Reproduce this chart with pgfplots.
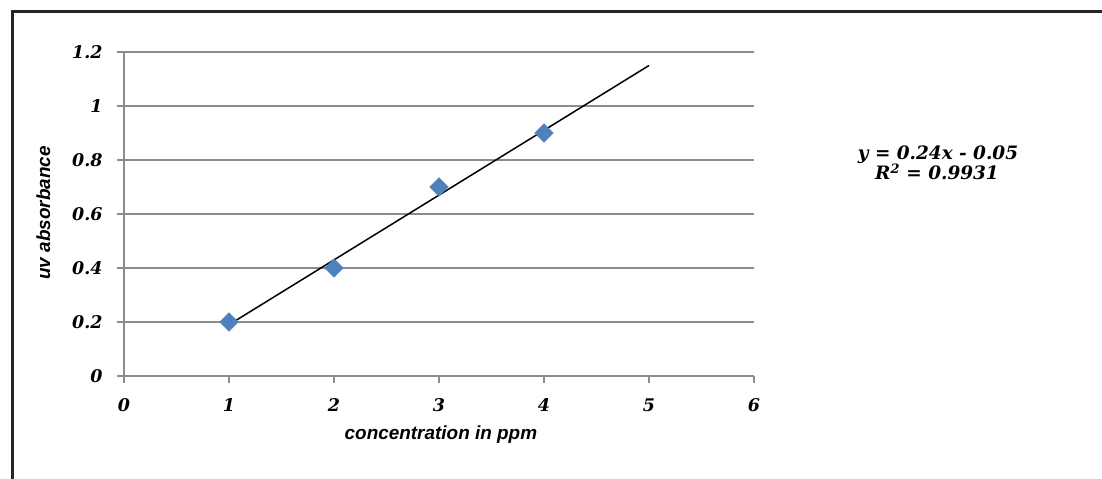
\documentclass[border=0pt]{standalone}
\usepackage{fontspec}
\setmainfont{DejaVu Serif}
\setsansfont{Liberation Sans}
\usepackage{pgfplots}
\pgfplotsset{compat=1.18}
\definecolor{gridgray}{HTML}{8C8C8C}
\definecolor{markblue}{HTML}{4F81BD}
\begin{document}
\begin{tikzpicture}[x=1bp,y=1bp]
\path[use as bounding box] (0,0) rectangle (1102,479);
\draw[line width=3bp, color=black!85] (12,0) -- (12,467) -- (1102,467);
\begin{axis}[
  at={(124bp,103bp)}, anchor=south west,
  scale only axis, width=630bp, height=324bp,
  xmin=0, xmax=6, ymin=0, ymax=1.2,
  axis lines=left,
  axis line style={gridgray, line width=1.5bp, -},
  xtick={0,1,2,3,4,5,6},
  ytick={0,0.2,0.4,0.6,0.8,1,1.2},
  yticklabels={0,0.2,0.4,0.6,0.8,1,1.2},
  xticklabels={0,1,2,3,4,5,6},
  ymajorgrids,
  grid style={gridgray, line width=1.5bp},
  tick style={gridgray, line width=1.5bp},
  tick align=outside, major tick length=7bp,
  /pgf/number format/assume math mode=true,
  tick label style={font=\fontsize{17.5}{20}\selectfont\bfseries\itshape},
  yticklabel style={anchor=east, xshift=-11bp},
  xticklabel style={anchor=north, yshift=-12bp},
  xlabel={concentration in ppm},
  ylabel={uv absorbance},
  xlabel style={font=\fontsize{19}{21}\selectfont\sffamily\bfseries\itshape, at={(axis description cs:0.503,-0.18)}, anchor=center},
  ylabel style={font=\fontsize{19}{21}\selectfont\sffamily\bfseries\itshape, at={(axis description cs:-0.128,0.503)}, anchor=center, rotate=0},
  clip=false,
]
\addplot[black, line width=1.5bp, no marks] coordinates {(1,0.19) (5,1.15)};
\addplot[only marks, mark=square*, mark size=6.6bp, mark options={rotate=45, fill=markblue, draw=markblue}] coordinates {(1,0.2) (2,0.4) (3,0.7) (4,0.9)};
\end{axis}
\node[font=\fontsize{18.5}{20}\selectfont\bfseries\itshape] at (938,324) {y = 0.24x - 0.05};
\node[font=\fontsize{18.5}{20}\selectfont\bfseries\itshape] at (937,307) {R\textsuperscript{2} = 0.9931};
\end{tikzpicture}
\end{document}
